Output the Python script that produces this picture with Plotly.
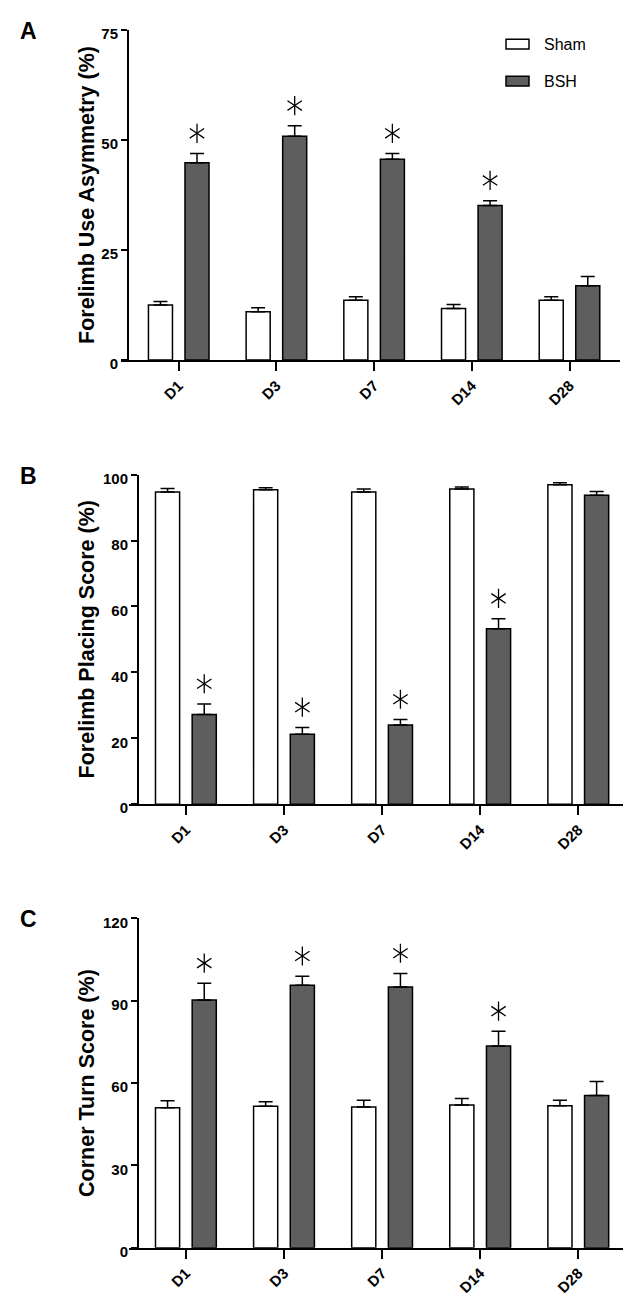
import plotly.graph_objects as go

W, H = 631, 1300

categories = ["D1", "D3", "D7", "D14", "D28"]
series_names = ["Sham", "BSH"]

# Panel A: Forelimb Use Asymmetry (%)
a_sham = [12.5, 11.0, 13.6, 11.7, 13.6]
a_sham_err = [0.8, 0.9, 0.8, 0.9, 0.8]
a_bsh = [44.8, 50.8, 45.6, 35.1, 16.9]
a_bsh_err = [2.1, 2.4, 1.3, 1.1, 2.1]
a_sig = [True, True, True, True, False]
a_ticks = [0, 25, 50, 75]

# Panel B: Forelimb Placing Score (%)
b_sham = [94.7, 95.4, 94.7, 95.6, 96.9]
b_sham_err = [1.1, 0.6, 0.9, 0.6, 0.6]
b_bsh = [27.2, 21.2, 24.0, 53.2, 93.7]
b_bsh_err = [3.2, 2.1, 1.7, 3.1, 1.2]
b_sig = [True, True, True, True, False]
b_ticks = [0, 20, 40, 60, 80, 100]

# Panel C: Corner Turn Score (%)
c_sham = [51.0, 51.5, 51.2, 52.0, 51.7]
c_sham_err = [2.5, 1.7, 2.5, 2.3, 2.0]
c_bsh = [90.2, 95.6, 95.0, 73.5, 55.4]
c_bsh_err = [6.1, 3.3, 4.9, 5.3, 5.1]
c_sig = [True, True, True, True, False]
c_ticks = [0, 30, 60, 90, 120]

panels = [
    dict(letter="A", title="Forelimb Use Asymmetry (%)", sham=a_sham, sham_err=a_sham_err,
         bsh=a_bsh, bsh_err=a_bsh_err, sig=a_sig, ticks=a_ticks,
         xl=112.5, xr=612.4, yx=120.0, top=17.0, bot=351.7, xrange=[-0.596, 4.521]),
    dict(letter="B", title="Forelimb Placing Score (%)", sham=b_sham, sham_err=b_sham_err,
         bsh=b_bsh, bsh_err=b_bsh_err, sig=b_sig, ticks=b_ticks,
         xl=121.0, xr=620.5, yx=130.0, top=467.7, bot=801.7, xrange=[-0.58, 4.512]),
    dict(letter="C", title="Corner Turn Score (%)", sham=c_sham, sham_err=c_sham_err,
         bsh=c_bsh, bsh_err=c_bsh_err, sig=c_sig, ticks=c_ticks,
         xl=121.0, xr=620.5, yx=130.0, top=917.3, bot=1251.0, xrange=[-0.58, 4.512]),
]

BAR_W = 0.246
SHAM_OFF = -0.31
BSH_OFF = 0.064
BSH_CENTER = BSH_OFF + BAR_W / 2
STAR_PX = 20.5
GRAY = "#5e5e5e"
TICK_FONT = dict(family="Liberation Sans Narrow, Liberation Sans, Arial", size=15, color="black", weight="bold")
XTICK_FONT = dict(family="Liberation Sans Narrow, Liberation Sans, Arial", size=15, color="black", weight="bold")

fig = go.Figure()
xpos = list(range(len(categories)))
annotations = []
layout_axes = {}

for i, p in enumerate(panels, start=1):
    xa = "x" if i == 1 else f"x{i}"
    ya = "y" if i == 1 else f"y{i}"
    ymax = p["ticks"][-1]
    fig.add_trace(go.Bar(
        x=xpos, y=p["sham"], name=series_names[0], xaxis=xa, yaxis=ya,
        width=BAR_W, offset=SHAM_OFF,
        marker=dict(color="white", line=dict(color="black", width=1.5)),
        error_y=dict(type="data", array=p["sham_err"], arrayminus=[0] * 5, symmetric=False,
                     color="black", thickness=1.5, width=7),
        showlegend=False))
    fig.add_trace(go.Bar(
        x=xpos, y=p["bsh"], name=series_names[1], xaxis=xa, yaxis=ya,
        width=BAR_W, offset=BSH_OFF,
        marker=dict(color=GRAY, line=dict(color="black", width=1.5)),
        error_y=dict(type="data", array=p["bsh_err"], arrayminus=[0] * 5, symmetric=False,
                     color="black", thickness=1.5, width=7),
        showlegend=False))
    # significance asterisks above error caps
    units_per_px = ymax / (p["bot"] - p["top"])
    sx = [k + BSH_CENTER for k, s in enumerate(p["sig"]) if s]
    sy = [v + e + STAR_PX * units_per_px for v, e, s in zip(p["bsh"], p["bsh_err"], p["sig"]) if s]
    for sym in ["y-up-open", "y-down-open"]:
        fig.add_trace(go.Scatter(
            x=sx, y=sy, mode="markers", xaxis=xa, yaxis=ya, showlegend=False, hoverinfo="skip",
            marker=dict(symbol=sym, size=12, color="black", line=dict(color="black", width=1.3))))

    layout_axes["xaxis" if i == 1 else f"xaxis{i}"] = dict(
        domain=[p["xl"] / W, p["xr"] / W], range=p["xrange"], anchor=ya,
        tickvals=xpos, ticktext=categories, tickangle=-45, tickfont=XTICK_FONT,
        showline=True, linecolor="black", linewidth=2, ticks="outside", ticklen=9,
        tickwidth=2, tickcolor="black", showgrid=False, zeroline=False, fixedrange=True)
    layout_axes["yaxis" if i == 1 else f"yaxis{i}"] = dict(
        domain=[1 - p["bot"] / H, 1 - p["top"] / H], range=[0, ymax], anchor="free",
        position=p["yx"] / W, tickvals=p["ticks"], tickfont=TICK_FONT,
        showline=True, linecolor="black", linewidth=2, ticks="outside", ticklen=6,
        tickwidth=2, tickcolor="black", showgrid=False, zeroline=False, ticklabelshift=4,
        fixedrange=True)

    annotations.append(dict(
        x=79 / W, y=1 - (p["top"] + p["bot"]) / 2 / H, xref="paper", yref="paper",
        text=p["title"], textangle=-90, showarrow=False, xanchor="center", yanchor="middle",
        font=dict(family="Liberation Sans, Arial", size=21.5, color="black", weight="bold")))
    annotations.append(dict(
        x=20 / W, y=1 - (p["top"] + 1) / H, xref="paper", yref="paper",
        text=p["letter"], showarrow=False, xanchor="center", yanchor="middle",
        font=dict(family="Liberation Sans, Arial", size=23, color="black", weight="bold")))

# legend (drawn manually to match the original box shapes)
shapes = []
legend_rows = [(series_names[0], "white", 26.5, 36.5), (series_names[1], GRAY, 64.0, 74.0)]
for name, color, y0, y1 in legend_rows:
    shapes.append(dict(type="rect", xref="paper", yref="paper",
                       x0=498 / W, x1=521 / W, y0=1 - y1 / H, y1=1 - y0 / H,
                       fillcolor=color, line=dict(color="black", width=1.5)))
    annotations.append(dict(
        x=534 / W, y=1 - (y0 + y1) / 2 / H, xref="paper", yref="paper", text=name,
        showarrow=False, xanchor="left", yanchor="middle",
        font=dict(family="Liberation Sans, Arial", size=16, color="black")))

fig.update_layout(
    width=W, height=H, margin=dict(l=0, r=0, t=0, b=0),
    paper_bgcolor="white", plot_bgcolor="white",
    annotations=annotations, shapes=shapes, showlegend=False,
    **layout_axes)

fig.write_html("out.html")
